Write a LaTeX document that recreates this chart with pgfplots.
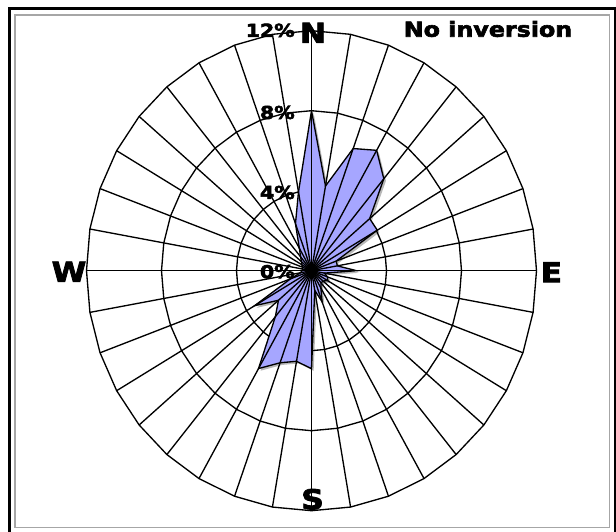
\documentclass[border=0pt]{standalone}
\usepackage{pgfplots}
\pgfplotsset{compat=1.18}
\usepackage{pgfplotstable}
\usepackage{fontspec}
\newfontfamily\vb{DejaVu Sans}[FakeStretch=1.15, BoldFeatures={FakeBold=3}]
\definecolor{fillc}{RGB}{166,166,255}

\pgfplotstableread{
dir val
0 8.0
10 4.3
20 6.5
30 6.95
40 6.0
50 4.05
60 4.05
70 1.4
80 1.4
90 2.4
100 0.7
110 0.9
120 1.0
130 0.8
140 0.8
150 1.0
160 1.65
170 1.0
180 4.9
190 4.6
200 4.9
210 5.65
220 3.0
230 2.3
240 3.5
250 1.2
260 0.6
270 0.5
280 0.5
290 0.5
300 0.6
310 0.7
320 0.9
330 1.3
340 2.5
350 4.0
360 8.0
}\windtab

\pgfplotstableread{
dir one
0 1
10 1
20 1
30 1
40 1
50 1
60 1
70 1
80 1
90 1
100 1
110 1
120 1
130 1
140 1
150 1
160 1
170 1
180 1
190 1
200 1
210 1
220 1
230 1
240 1
250 1
260 1
270 1
280 1
290 1
300 1
310 1
320 1
330 1
340 1
350 1
360 1
}\angtab

\begin{document}
\begin{tikzpicture}
\useasboundingbox (0,0) rectangle (462pt,398.25pt);
\draw[black, line width=2.25pt] (6.98pt,391.5pt) rectangle (461.25pt,-3pt);
\draw[black!35, line width=1.1pt] (11.25pt,387pt) rectangle (457pt,2.6pt);
\begin{axis}[
  at={(233.625pt,195.225pt)}, anchor=origin,
  scale only axis, width=337.5pt, height=360pt,
  xmin=-12, xmax=12, ymin=-12, ymax=12,
  hide axis, clip=false, no markers,
]
\pgfplotsinvokeforeach{4,8,12}{
  \addplot[black, line width=1pt, data cs=polar] table[x expr=90-\thisrow{dir}, y expr=#1*\thisrow{one}] {\angtab};
}
\addplot[draw=none, fill=black, fill opacity=0.28, data cs=polar, xshift=1.6pt, yshift=-1.6pt]
  table[x expr=90-\thisrow{dir}, y=val] {\windtab};
\addplot[black, line width=1pt, fill=fillc, data cs=polar]
  table[x expr=90-\thisrow{dir}, y=val] {\windtab};
\pgfplotsinvokeforeach{0,10,...,350}{
  \addplot[black, line width=1pt, data cs=polar] coordinates {(#1,0) (#1,12)};
}
\end{axis}
\begin{scope}[every node/.style={inner sep=0pt, font=\vb\bfseries}]
\node[anchor=east, font=\vb\bfseries\fontsize{13.35pt}{14pt}\selectfont] at (221.25pt,194.475pt) {0\%};
\node[anchor=east, font=\vb\bfseries\fontsize{13.35pt}{14pt}\selectfont] at (221.25pt,253.875pt) {4\%};
\node[anchor=east, font=\vb\bfseries\fontsize{13.35pt}{14pt}\selectfont] at (221.25pt,313.875pt) {8\%};
\node[anchor=east, font=\vb\bfseries\fontsize{13.35pt}{14pt}\selectfont] at (221.25pt,375.525pt) {12\%};
\node[font=\vb\bfseries\fontsize{20.5pt}{22pt}\selectfont] at (234.75pt,373.65pt) {N};
\node[font=\vb\bfseries\fontsize{20.5pt}{22pt}\selectfont] at (413.5pt,194.1pt) {E};
\node[font=\vb\bfseries\fontsize{20.5pt}{22pt}\selectfont] at (234.4pt,23.8pt) {S};
\node[font=\vb\bfseries\fontsize{20.5pt}{22pt}\selectfont] at (51.75pt,194.5pt) {W};
\node[anchor=base, font=\vb\bfseries\fontsize{15.5pt}{17pt}\selectfont] at (366pt,370.7pt) {No inversion};
\end{scope}
\end{tikzpicture}
\end{document}
